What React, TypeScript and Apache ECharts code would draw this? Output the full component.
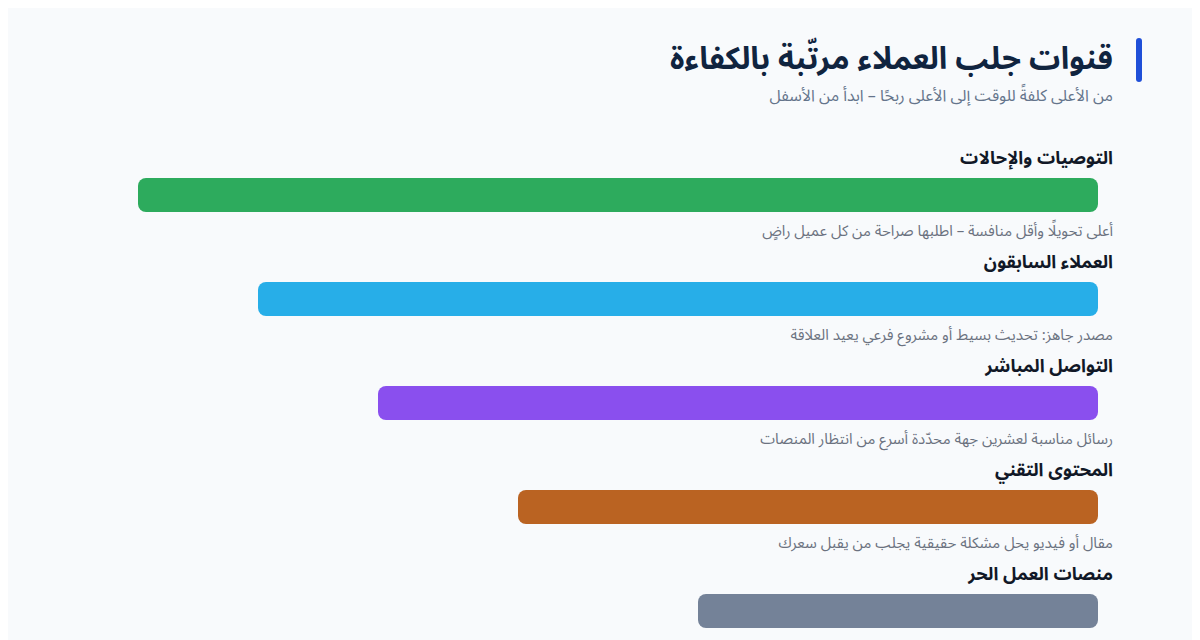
import React, { useEffect, useRef } from "react";
import * as echarts from "echarts";

const channels = [
  "التوصيات والإحالات",
  "العملاء السابقون",
  "التواصل المباشر",
  "المحتوى التقني",
  "منصات العمل الحر",
];
const descriptions = [
  "أعلى تحويلًا وأقل منافسة – اطلبها صراحة من كل عميل راضٍ",
  "مصدر جاهز: تحديث بسيط أو مشروع فرعي يعيد العلاقة",
  "رسائل مناسبة لعشرين جهة محدّدة أسرع من انتظار المنصات",
  "مقال أو فيديو يحل مشكلة حقيقية يجلب من يقبل سعرك",
  "",
];
const efficiency = [96, 84, 72, 58, 40];
const colors = ["#2DAB5D", "#27AEE8", "#8A4FEE", "#BA6322", "#748298"];

const titleText = "قنوات جلب العملاء مرتّبة بالكفاءة";
const subtitleText = "من الأعلى كلفةً للوقت إلى الأعلى ربحًا – ابدأ من الأسفل";

const FONT = "'Noto Sans Arabic', 'Noto Sans', 'DejaVu Sans', sans-serif";

export default function App() {
  const ref = useRef<HTMLDivElement>(null);
  useEffect(() => {
    if (!ref.current) return;
    const chart = echarts.init(ref.current, null, { renderer: "svg" });
    const labelMap: Record<string, string> = {};
    channels.forEach((c, i) => (labelMap[c] = descriptions[i]));
    chart.setOption({
      animation: false,
      backgroundColor: "#F8FAFC",
      textStyle: { fontFamily: FONT },
      graphic: [
        {
          type: "rect",
          shape: { x: 1128, y: 30, width: 6, height: 44, r: 3 },
          style: { fill: "#1F4FD8" },
        },
        {
          type: "text",
          x: 1105,
          y: 51,
          style: {
            text: titleText,
            align: "right",
            verticalAlign: "middle",
            fontFamily: FONT,
            fontSize: 31,
            fontWeight: "bold",
            fill: "#10243F",
          },
        },
        {
          type: "text",
          x: 1105,
          y: 88,
          style: {
            text: subtitleText,
            align: "right",
            verticalAlign: "middle",
            fontFamily: FONT,
            fontSize: 16,
            fill: "#64748B",
          },
        },
      ],
      grid: { left: 90, right: 110, top: 135, height: 520 },
      xAxis: {
        type: "value",
        min: 0,
        max: 100,
        inverse: true,
        show: false,
      },
      yAxis: {
        type: "category",
        data: channels,
        inverse: true,
        position: "right",
        axisLine: { show: false },
        axisTick: { show: false },
        splitLine: { show: false },
        axisLabel: {
          margin: 15,
          align: "right",
          formatter: (v: string) => `{n|${v}}\n{s|}\n{d|${labelMap[v] || ""}}`,
          rich: {
            n: { fontFamily: FONT, fontSize: 18, fontWeight: "bold", color: "#111827", lineHeight: 18, align: "right" },
            s: { lineHeight: 54, fontSize: 10 },
            d: { fontFamily: FONT, fontSize: 15, color: "#6B7280", lineHeight: 20, align: "right" },
          },
        },
      },
      series: [
        {
          type: "bar",
          barWidth: 34,
          data: efficiency.map((v, i) => ({ value: v, itemStyle: { color: colors[i] } })),
          itemStyle: { borderRadius: 8 },
        },
      ],
    });
    return () => chart.dispose();
  }, []);
  return <div ref={ref} style={{ width: 1200, height: 680 }} />;
}
